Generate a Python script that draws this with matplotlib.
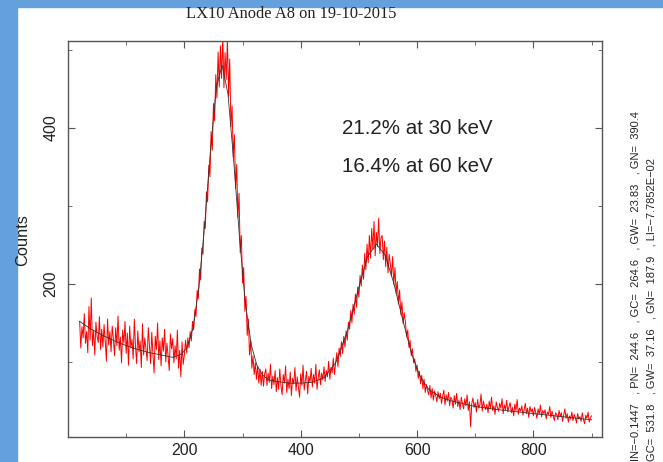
import numpy as np
import matplotlib
matplotlib.use("Agg")
import matplotlib.pyplot as plt
from matplotlib.patches import Rectangle
from matplotlib.ticker import FixedLocator

plt.rcParams["font.family"] = ["Liberation Sans", "DejaVu Sans"]

# Spectrum: counts every 2 channels, starting at channel 20 (one row = 20 channels)
CH_START = 20
CH_STEP = 2
counts = [
    152, 118, 145, 131, 162, 124, 139, 112, 171, 128,   # 20
    182, 121, 140, 109, 151, 133, 125, 158, 116, 142,   # 40
    119, 148, 127, 101, 155, 122, 139, 113, 146, 130,   # 60
    108, 144, 121, 159, 115, 132, 99, 141, 124, 152,    # 80
    111, 137, 96, 146, 118, 129, 104, 155, 120, 98,     # 100
    140, 113, 127, 93, 149, 109, 131, 117, 102, 144,    # 120
    121, 98, 138, 110, 86, 133, 116, 150, 103, 127,     # 140
    95, 131, 114, 142, 100, 124, 108, 89, 136, 117,     # 160
    130, 99, 121, 104, 141, 92, 115, 81, 126, 97,       # 180
    109, 128, 112, 131, 118, 139, 127, 152, 141, 167,   # 200
    158, 192, 181, 219, 205, 246, 238, 280, 271, 318,   # 220
    305, 352, 337, 395, 371, 431, 409, 468, 438, 497,   # 240
    452, 505, 463, 518, 451, 496, 462, 514, 440, 488,   # 260
    401, 428, 362, 391, 322, 353, 285, 316, 240, 262,   # 280
    201, 221, 165, 184, 134, 155, 109, 128, 92, 108,    # 300
    84, 99, 78, 95, 73, 91, 70, 88, 69, 85,             # 320
    91, 70, 86, 74, 97, 66, 82, 71, 89, 62,             # 340
    80, 65, 91, 70, 58, 84, 73, 95, 61, 78,             # 360
    66, 87, 57, 79, 72, 93, 63, 81, 68, 55,             # 380
    85, 70, 96, 64, 77, 88, 59, 82, 74, 92,             # 400
    68, 84, 73, 97, 65, 80, 90, 71, 86, 77,             # 420
    94, 75, 89, 81, 101, 78, 93, 86, 105, 84,           # 440
    99, 112, 94, 118, 107, 126, 111, 133, 119, 140,     # 460
    128, 151, 142, 166, 150, 174, 161, 187, 170, 196,   # 480
    183, 211, 197, 224, 206, 239, 218, 251, 227, 262,   # 500
    233, 271, 244, 280, 236, 266, 248, 284, 239, 259,   # 520
    262, 231, 255, 222, 247, 214, 238, 226, 210, 235,   # 540
    199, 221, 188, 203, 174, 192, 161, 177, 149, 163,   # 560
    151, 132, 141, 119, 128, 108, 117, 99, 104, 88,     # 580
    96, 79, 88, 72, 83, 66, 78, 61, 71, 64,             # 600
    58, 70, 54, 66, 51, 63, 57, 49, 62, 53,             # 620
    60, 47, 56, 64, 45, 58, 50, 61, 44, 55,             # 640
    52, 41, 57, 46, 60, 43, 51, 39, 55, 47,             # 660
    40, 53, 44, 58, 38, 49, 17, 47, 54, 42,             # 680
    48, 36, 52, 41, 45, 59, 37, 50, 43, 39,             # 700
    46, 35, 50, 40, 55, 38, 44, 33, 49, 42,             # 720
    37, 47, 41, 53, 34, 45, 39, 51, 36, 43,             # 740
    48, 35, 42, 31, 46, 38, 52, 33, 41, 37,             # 760
    44, 32, 39, 47, 34, 41, 29, 43, 36, 40,             # 780
    31, 42, 35, 28, 40, 33, 45, 30, 38, 34,             # 800
    39, 27, 36, 33, 43, 29, 37, 31, 25, 35,             # 820
    33, 26, 38, 30, 35, 24, 32, 40, 28, 34,             # 840
    23, 31, 27, 36, 25, 33, 29, 22, 34, 27,             # 860
    30, 24, 35, 26, 21, 32, 28, 36, 23, 29,             # 880
    31,                                                 # 900
]
channels = CH_START + CH_STEP * np.arange(len(counts))

# Fitted curve
fit_ch = [20, 40, 60, 80, 100, 120, 140, 160, 180, 195, 205, 215, 225, 235,
          245, 255, 265, 275, 285, 295, 305, 315, 325, 335, 345, 360, 380,
          400, 420, 440, 460, 480, 500, 515, 530, 545, 560, 575, 590, 605,
          620, 640, 660, 700, 750, 800, 850, 900]
fit_val = [152, 142, 134, 127, 121, 116, 112, 109, 106, 110, 119, 144, 196, 276,
           372, 452, 480, 443, 356, 257, 175, 122, 95, 83, 77, 75, 73,
           73, 74, 80, 99, 139, 196, 235, 251, 237, 201, 155, 112, 82,
           65, 55, 50, 43, 38, 34, 30, 26]

title = "LX10 Anode A8 on 19-10-2015"
notes = ["21.2% at 30 keV", "16.4% at 60 keV"]
fit_text = [
    "IN=\u22120.1447   , PN=  244.6   , GC=  264.6   , GW=  23.83   , GN=  390.4",
    "GC=  531.8   , GW=  37.16   , GN=  187.9   , LI=\u22127.7852E\u221202",
]

W, H = 663, 462
fig = plt.figure(figsize=(W / 100, H / 100), dpi=100)

# blue frame strips
blue = "#64a0dc"
fig.patches.append(Rectangle((0, 0), 17 / W, 1, transform=fig.transFigure, color=blue, zorder=0))
fig.patches.append(Rectangle((0, 1 - 7 / H), 1, 7 / H, transform=fig.transFigure, color=blue, zorder=0))

ax = fig.add_axes([68 / W, 25 / H, 533.5 / W, 396 / H])
ax.plot(channels, counts, color="red", lw=0.7)
ax.plot(fit_ch, fit_val, color="#333333", lw=0.6)

ax.set_xlim(0, 917)
ax.set_ylim(4, 511)
ax.set_xticks([200, 400, 600, 800])
ax.xaxis.set_minor_locator(FixedLocator([100, 300, 500, 700, 900]))
ax.set_yticks([200, 400])
ax.yaxis.set_minor_locator(FixedLocator([100, 300, 500]))
for lab in ax.get_yticklabels():
    lab.set_rotation(90)
    lab.set_va("center")
ax.tick_params(which="both", direction="in", top=True, right=True,
               color="#555555", labelsize=11.5, labelcolor="#222222")
ax.tick_params(which="major", length=5)
ax.tick_params(which="minor", length=3)
ax.tick_params(axis="x", pad=4)
ax.tick_params(axis="y", pad=7)
for sp in ax.spines.values():
    sp.set_color("#555555")
    sp.set_linewidth(1.0)

fig.text(23 / W, 1 - 240 / H, "Counts", rotation=90, fontsize=11.8,
         ha="center", va="center", color="#222222")
fig.text(291.5 / W, 1 - 13.5 / H, title, family="Liberation Serif",
         fontsize=11.9, ha="center", va="center", color="#222222")
fig.text(342 / W, 1 - 128 / H, notes[0], fontsize=14.8, va="center", color="#222222")
fig.text(342 / W, 1 - 167 / H, notes[1], fontsize=14.8, va="center", color="#222222")

fig.text(636 / W, 1 / H, fit_text[0], rotation=90, fontsize=8.0,
         ha="center", va="bottom", color="#222222")
fig.text(652 / W, 1 / H, fit_text[1], rotation=90, fontsize=8.0,
         ha="center", va="bottom", color="#222222")

fig.savefig("out.png", dpi=100)
